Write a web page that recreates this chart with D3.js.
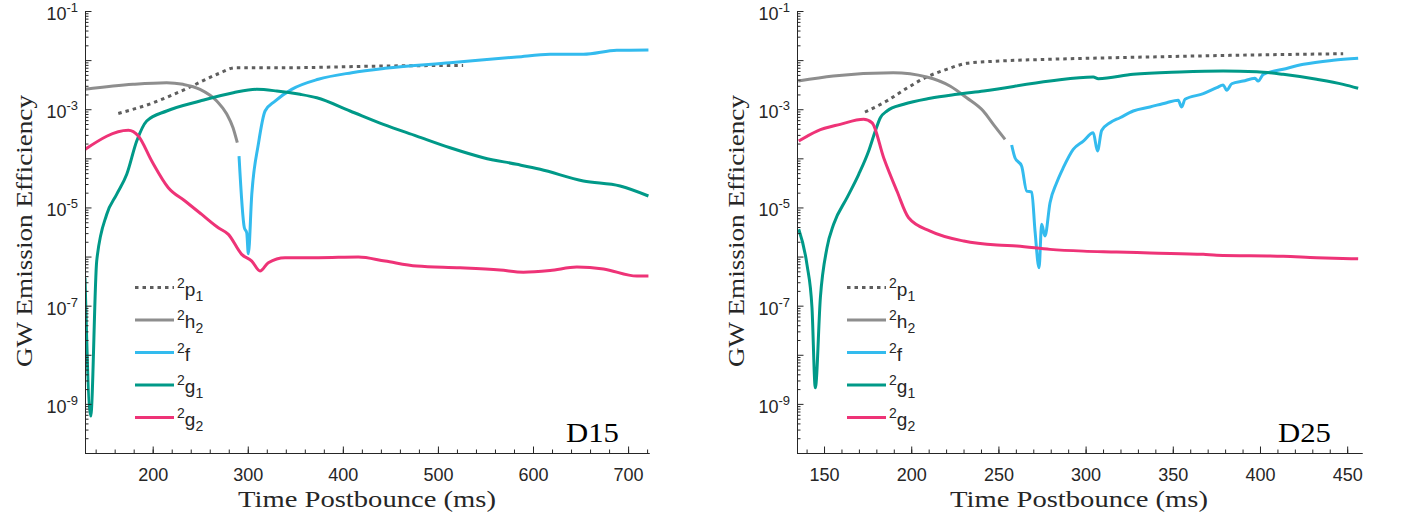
<!DOCTYPE html>
<html>
<head>
<meta charset="utf-8">
<script src="https://cdn.jsdelivr.net/npm/d3@7"></script>
<style>
  body { margin: 0; background: #fff; }
  svg { display: block; }
</style>
</head>
<body>
<svg id="chart" width="1401" height="519"></svg>
<script>
// values, [time ms, efficiency]
const d15P1 = [[163.8, 8.2e-4], [199.0, 1.32e-3], [234.0, 2.54e-3], [269.0, 5.28e-3], [286.6, 7.0e-3],
  [339.2, 7.0e-3], [444.4, 7.59e-3], [526.5, 7.8e-3]];
const d15H2 = [[128.8, 2.54e-3], [179.3, 3.21e-3], [214.7, 3.47e-3], [231.9, 3.21e-3], [249.8, 2.54e-3],
  [267.4, 1.47e-3], [277.9, 7.98e-4], [284.5, 4.2e-4], [289.0, 2.08e-4]];
const d15F = [[290.8, 1.11e-4], [296.4, 3.86e-6], [298.9, 3.05e-6], [300.6, 1.14e-6], [304.2, 1.85e-5],
  [311.1, 1.93e-4], [318.2, 9.2e-4], [328.7, 1.47e-3], [346.2, 2.54e-3], [374.2, 4.07e-3], [409.4, 5.54e-3],
  [444.4, 6.8e-3], [512.8, 8.85e-3], [583.0, 1.16e-2], [618.0, 1.31e-2], [653.0, 1.31e-2], [688.1, 1.58e-2],
  [721.4, 1.61e-2]];
const d15G1 = [[128.8, 3.7e-7], [134.8, 5.65e-10], [141.1, 8.1e-7], [151.6, 7.2e-6], [162.1, 1.85e-5],
  [172.7, 4.72e-5], [183.2, 2.25e-4], [193.7, 5.75e-4], [214.7, 9.2e-4], [249.8, 1.47e-3], [284.8, 2.17e-3],
  [309.4, 2.54e-3], [330.5, 2.35e-3], [355.0, 2.01e-3], [372.6, 1.71e-3], [407.6, 9.2e-4], [442.6, 4.92e-4],
  [477.6, 2.84e-4], [512.8, 1.64e-4], [547.8, 1.03e-4], [582.9, 7.55e-5], [607.5, 5.97e-5], [653.0, 3.45e-5],
  [691.6, 2.73e-5], [721.4, 1.71e-5]];
const d15G2 = [[128.8, 1.52e-4], [174.4, 3.72e-4], [184.9, 2.84e-4], [199.0, 8.8e-5], [216.4, 2.52e-5],
  [234.0, 1.35e-5], [251.6, 7.2e-6], [269.0, 3.86e-6], [279.6, 2.83e-6], [293.6, 1.11e-6], [304.2, 8.1e-7],
  [312.9, 5.07e-7], [321.6, 7.5e-7], [339.2, 9.5e-7], [374.2, 9.5e-7], [416.3, 9.8e-7], [444.4, 8.1e-7],
  [477.7, 6.4e-7], [523.3, 5.9e-7], [565.4, 5.3e-7], [589.9, 4.8e-7], [618.0, 5.2e-7], [646.1, 6.1e-7],
  [674.1, 5.6e-7], [709.2, 4.0e-7], [721.4, 4.0e-7]];

const d25P1 = [[173.5, 8.77e-4], [185.9, 1.47e-3], [197.4, 2.67e-3], [208.9, 4.53e-3], [220.3, 6.5e-3],
  [231.8, 8.6e-3], [250.9, 9.6e-3], [279.6, 1.04e-2], [336.9, 1.16e-2], [394.2, 1.27e-2], [447.7, 1.35e-2]];
const d25H2 = [[135.2, 3.75e-3], [155.3, 4.74e-3], [189.7, 5.53e-3], [208.9, 4.53e-3], [222.2, 2.97e-3],
  [231.8, 1.71e-3], [241.3, 9.2e-4], [247.1, 4.92e-4], [253.8, 2.44e-4]];
const d25F = [[257.6, 1.87e-4], [259.5, 1.03e-4], [263.3, 6.97e-5], [266.2, 2.16e-5], [269.1, 2.06e-5],
  [271.0, 3.3e-6], [273.3, 5.9e-7], [274.8, 4.53e-6], [276.7, 2.62e-6], [279.6, 1.25e-5], [283.4, 3.18e-5],
  [287.2, 6.44e-5], [292.9, 1.52e-4], [298.7, 2.25e-4], [304.4, 3.32e-4], [306.8, 1.41e-4], [309.2, 3.68e-4],
  [314.0, 5.31e-4], [319.7, 6.71e-4], [327.3, 9.2e-4], [336.9, 1.11e-3], [346.5, 1.36e-3], [353.1, 1.52e-3],
  [355.1, 1.11e-3], [357.0, 1.59e-3], [367.5, 2.07e-3], [375.2, 2.74e-3], [378.9, 3.11e-3], [380.9, 2.43e-3],
  [383.8, 3.3e-3], [390.4, 3.75e-3], [397.1, 4.25e-3], [399.0, 3.75e-3], [401.9, 5.14e-3], [413.3, 6.5e-3],
  [425.0, 8.2e-3], [442.0, 9.9e-3], [456.3, 1.09e-2]];
const d25G1 = [[135.5, 3.58e-6], [140.2, 6.93e-7], [143.1, 9.06e-8], [145.0, 2.13e-9], [147.9, 1.45e-7],
  [151.7, 1.51e-6], [155.5, 4.53e-6], [163.2, 1.58e-5], [169.9, 4.72e-5], [175.6, 1.41e-4], [179.4, 3.6e-4],
  [182.3, 6.71e-4], [186.1, 9.2e-4], [195.7, 1.26e-3], [210.9, 1.67e-3], [226.2, 2.01e-3], [241.6, 2.35e-3],
  [279.6, 3.75e-3], [304.4, 4.53e-3], [307.3, 4.18e-3], [327.3, 5.14e-3], [354.1, 5.73e-3], [378.9, 6.0e-3],
  [398.1, 5.81e-3], [413.3, 5.14e-3], [432.5, 4.07e-3], [447.7, 3.21e-3], [456.3, 2.67e-3]];
const d25G2 = [[135.5, 2.25e-4], [146.0, 3.6e-4], [159.3, 4.92e-4], [172.7, 6.22e-4], [177.5, 5.31e-4],
  [184.2, 1.03e-4], [191.8, 2.16e-5], [198.5, 6.17e-6], [210.9, 3.3e-6], [230.1, 2.07e-6], [249.2, 1.71e-6],
  [260.6, 1.64e-6], [279.6, 1.40e-6], [298.7, 1.29e-6], [317.8, 1.24e-6], [336.9, 1.18e-6], [367.5, 1.11e-6],
  [375.2, 1.06e-6], [413.3, 1.01e-6], [432.5, 9.46e-7], [456.3, 9.0e-7]];

const legendBase = ["p", "h", "f", "g", "g"];
const legendSub = ["1", "2", "", "1", "2"];
const yTicks = [1e-9, 1e-7, 1e-5, 1e-3, 1e-1];
const yTickExp = ["-9", "-7", "-5", "-3", "-1"];
const d15XTicks = [200, 300, 400, 500, 600, 700];
const d25XTicks = [150, 200, 250, 300, 350, 400, 450];

const colors = ["#5e5e5e", "#8e8e8e", "#33bbee", "#009988", "#ee3377"];
const dashes = ["3.5,4", null, null, null, null];
const axisColor = "#262626";

let svg = d3.select("#chart");

drawPanel({
  id: "d15", left: 85, right: 649, top: 11, bottom: 453,
  xDomain: [128.8, 722], xTicks: d15XTicks, minorStep: 20,
  series: [d15P1, d15H2, d15F, d15G1, d15G2], tag: "D15", tagX: 566,
  yLabelX: 32, xLabelX: 367
});
drawPanel({
  id: "d25", left: 797, right: 1362, top: 11, bottom: 453,
  xDomain: [134.5, 458.5], xTicks: d25XTicks, minorStep: 10,
  series: [d25P1, d25H2, d25F, d25G1, d25G2], tag: "D25", tagX: 1278,
  yLabelX: 744, xLabelX: 1079
});

function drawPanel(cfg) {
  let x = d3.scaleLinear().domain(cfg.xDomain).range([cfg.left, cfg.right]);
  let y = d3.scaleLog().domain([1e-10, 1e-1]).range([cfg.bottom, cfg.top]);

  svg.append("clipPath").attr("id", "clip-" + cfg.id)
    .append("rect")
    .attr("x", cfg.left).attr("y", cfg.top)
    .attr("width", cfg.right - cfg.left).attr("height", cfg.bottom - cfg.top);

  let line = d3.line().x(d => x(d[0])).y(d => y(d[1])).curve(d3.curveMonotoneX);
  let g = svg.append("g").attr("clip-path", "url(#clip-" + cfg.id + ")");
  cfg.series.forEach((s, i) => {
    g.append("path")
      .datum(s)
      .attr("d", line)
      .attr("fill", "none")
      .attr("stroke", colors[i])
      .attr("stroke-width", 3)
      .attr("stroke-linejoin", "round")
      .attr("stroke-dasharray", dashes[i]);
  });

  // x axis, ticks pointing inward
  let minorX = d3.range(Math.ceil(cfg.xDomain[0] / cfg.minorStep) * cfg.minorStep, cfg.xDomain[1], cfg.minorStep);
  let xMinor = svg.append("g")
    .attr("transform", "translate(0," + cfg.bottom + ")")
    .call(d3.axisBottom(x).tickValues(minorX).tickSize(-3.5).tickSizeOuter(0).tickFormat(""));
  let xAxis = svg.append("g")
    .attr("transform", "translate(0," + cfg.bottom + ")")
    .call(d3.axisBottom(x).tickValues(cfg.xTicks).tickSize(-6.5).tickSizeOuter(0).tickPadding(15));
  xAxis.selectAll("text")
    .attr("font-family", "'Liberation Sans', Arial, sans-serif")
    .attr("font-size", 18)
    .attr("fill", axisColor);

  // y axis (log) with decade and minor ticks
  let decades = d3.range(-10, -1 + 1).map(e => Math.pow(10, e));
  let minorY = [];
  decades.slice(0, -1).forEach(d => {
    for (let m = 2; m <= 9; m++) minorY.push(d * m);
  });
  let yMinor = svg.append("g")
    .attr("transform", "translate(" + cfg.left + ",0)")
    .call(d3.axisLeft(y).tickValues(minorY).tickSize(-3.5).tickSizeOuter(0).tickFormat(""));
  let yAxis = svg.append("g")
    .attr("transform", "translate(" + cfg.left + ",0)")
    .call(d3.axisLeft(y).tickValues(decades).tickSize(-6.5).tickSizeOuter(0).tickFormat(""));

  [xMinor, xAxis, yMinor, yAxis].forEach(a => {
    a.selectAll("path, line").attr("stroke", axisColor).attr("stroke-width", 1);
  });

  yTicks.forEach((t, i) => {
    let label = svg.append("text")
      .attr("x", cfg.left - 7)
      .attr("y", y(t) + 9)
      .attr("text-anchor", "end")
      .attr("font-family", "'Liberation Sans', Arial, sans-serif")
      .attr("fill", axisColor);
    label.append("tspan").attr("font-size", 18).text("10");
    label.append("tspan").attr("font-size", 13).attr("dy", -8).text(yTickExp[i]);
  });

  // axis titles
  svg.append("text")
    .attr("x", cfg.xLabelX).attr("y", 507)
    .attr("text-anchor", "middle")
    .attr("font-family", "'Liberation Serif', 'Times New Roman', serif")
    .attr("font-size", 24)
    .attr("fill", axisColor)
    .attr("textLength", 258).attr("lengthAdjust", "spacingAndGlyphs")
    .text("Time Postbounce (ms)");
  svg.append("text")
    .attr("transform", "translate(" + cfg.yLabelX + ",231) rotate(-90)")
    .attr("text-anchor", "middle")
    .attr("font-family", "'Liberation Serif', 'Times New Roman', serif")
    .attr("font-size", 24)
    .attr("fill", axisColor)
    .attr("textLength", 272).attr("lengthAdjust", "spacingAndGlyphs")
    .text("GW Emission Efficiency");

  // panel tag
  svg.append("text")
    .attr("x", cfg.tagX).attr("y", 442)
    .attr("font-family", "'Liberation Serif', 'Times New Roman', serif")
    .attr("font-size", 28)
    .attr("fill", "#000")
    .attr("textLength", 53).attr("lengthAdjust", "spacingAndGlyphs")
    .text(cfg.tag);

  // legend
  let lx = cfg.left + 50;
  legendBase.forEach((b, i) => {
    let ly = 287.5 + i * 32.5;
    svg.append("line")
      .attr("x1", lx).attr("x2", lx + 39)
      .attr("y1", ly).attr("y2", ly)
      .attr("stroke", colors[i])
      .attr("stroke-width", 3)
      .attr("stroke-dasharray", dashes[i]);
    let t = svg.append("text")
      .attr("x", lx + 42).attr("y", ly + 8)
      .attr("font-family", "'Liberation Sans', Arial, sans-serif")
      .attr("fill", axisColor);
    t.append("tspan").attr("font-size", 14).attr("dy", -8).text("2");
    t.append("tspan").attr("font-size", 19).attr("dy", 8).text(b);
    if (legendSub[i]) {
      t.append("tspan").attr("font-size", 14).attr("dy", 5).text(legendSub[i]);
    }
  });
}
</script>
</body>
</html>
